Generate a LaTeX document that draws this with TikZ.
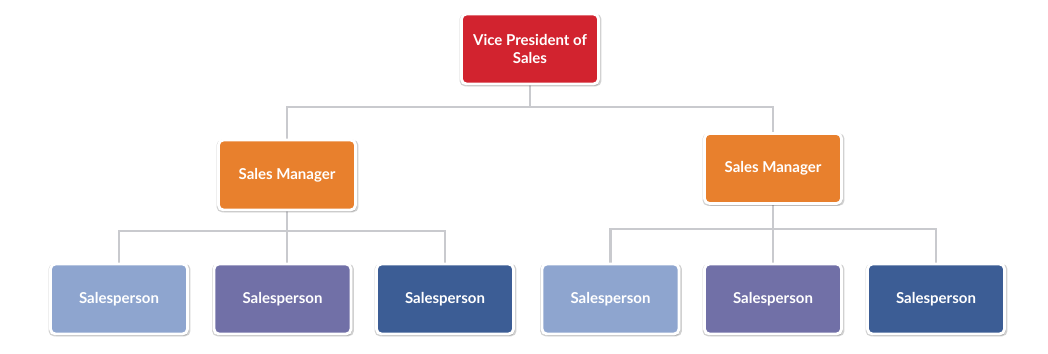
\documentclass[tikz,border=0pt]{standalone}
\usepackage{fontspec}
\setmainfont{Lato}
\usetikzlibrary{shadows,backgrounds}
\definecolor{vpred}{HTML}{D2232F}
\definecolor{mgrorange}{HTML}{E8802D}
\definecolor{splight}{HTML}{8EA5CF}
\definecolor{sppurple}{HTML}{7170A7}
\definecolor{spdark}{HTML}{3C5D95}
\definecolor{linegray}{HTML}{C9CACE}
\tikzset{
  box/.style={rectangle, rounded corners=5pt, draw=white, line width=2.8pt,
    minimum width=137pt, minimum height=70pt, inner sep=2pt,
    text=white, font=\bfseries\fontsize{15}{18}\selectfont, align=center,
    general shadow={fill=black, opacity=0.18, shadow scale=1.035, shadow xshift=0.5pt, shadow yshift=-1pt},
    drop shadow={shadow xshift=1pt, shadow yshift=-2pt, opacity=0.3, fill=black!60}},
  vp/.style={box, fill=vpred},
  mgr/.style={box, fill=mgrorange},
  spa/.style={box, fill=splight},
  spb/.style={box, fill=sppurple},
  spc/.style={box, fill=spdark},
  conn/.style={draw=linegray, line width=2.8pt}
}
\begin{document}
\begin{tikzpicture}[x=1pt,y=-1pt]
\useasboundingbox (0,0) rectangle (1048,353);
\node[vp] (vp) at (530,49) {Vice President of\\Sales};
\node[mgr] (m1) at (287,175) {Sales Manager};
\node[mgr] (m2) at (773,168.5) {Sales Manager};
\node[spa] (s1) at (119,299) {Salesperson};
\node[spb] (s2) at (282.5,299) {Salesperson};
\node[spc] (s3) at (445,299) {Salesperson};
\node[spa] (s4) at (610.5,299) {Salesperson};
\node[spb] (s5) at (773,299) {Salesperson};
\node[spc] (s6) at (936,299) {Salesperson};
\coordinate (j0) at (530,107);
\coordinate (jl) at (287,231);
\coordinate (jr) at (773,229);
\begin{scope}[on background layer]
\draw[conn] (vp.south) -- (j0);
\draw[conn] (m1.north) |- (j0) -| (m2.north);
\draw[conn] (m1.south) -- (jl);
\draw[conn] (s1.north) |- (jl) -| (s3.north);
\draw[conn] (jl) -- (s2.north -| jl);
\draw[conn] (m2.south) -- (jr);
\draw[conn] (s4.north) |- (jr) -| (s6.north);
\draw[conn] (jr) -- (s5.north);
\end{scope}
\end{tikzpicture}
\end{document}
